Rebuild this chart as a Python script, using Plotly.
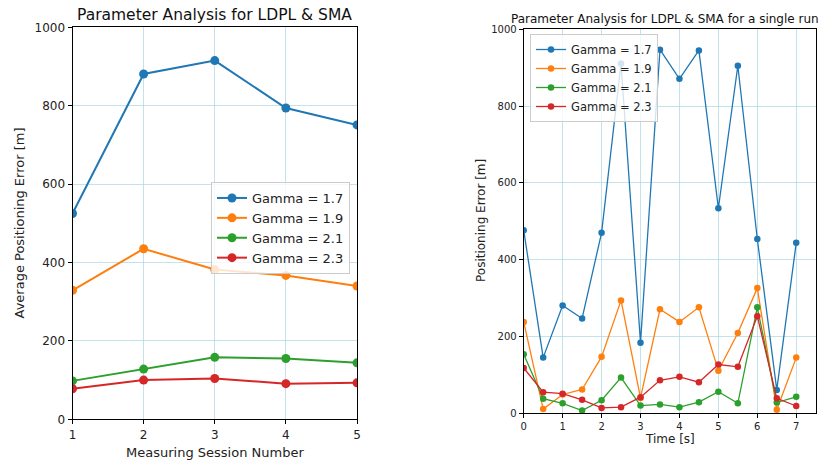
import plotly.graph_objects as go

W, H = 828, 464
colors = ["#1f77b4", "#ff7f0e", "#2ca02c", "#d62728"]
gamma_labels = ["Gamma = 1.7", "Gamma = 1.9", "Gamma = 2.1", "Gamma = 2.3"]

# Left chart: average error per measuring session
sessions = [1, 2, 3, 4, 5]
avg_g17 = [525, 881, 915, 794, 751]
avg_g19 = [329, 435, 382, 367, 340]
avg_g21 = [98, 128, 158, 155, 144]
avg_g23 = [78, 100, 104, 91, 93]

# Right chart: single run over time
time_s = [0, 0.5, 1, 1.5, 2, 2.5, 3, 3.5, 4, 4.5, 5, 5.5, 6, 6.5, 7]
run_g17 = [477, 145, 281, 247, 470, 911, 184, 947, 871, 945, 534, 905, 454, 61, 444]
run_g19 = [238, 11, 49, 62, 147, 294, 40, 271, 238, 276, 111, 209, 326, 9, 145]
run_g21 = [154, 38, 26, 7, 34, 93, 20, 23, 16, 29, 56, 26, 276, 28, 43]
run_g23 = [118, 55, 51, 35, 14, 16, 42, 86, 95, 81, 127, 121, 253, 39, 19]

FONT = "DejaVu Sans"
GRID = "rgba(173,216,230,0.75)"

fig = go.Figure()
for ys, c, name in zip([avg_g17, avg_g19, avg_g21, avg_g23], colors, gamma_labels):
    fig.add_trace(go.Scatter(x=sessions, y=ys, mode="lines+markers", name=name,
                             line=dict(color=c, width=2), marker=dict(color=c, size=9),
                             xaxis="x", yaxis="y", legend="legend"))
for ys, c, name in zip([run_g17, run_g19, run_g21, run_g23], colors, gamma_labels):
    fig.add_trace(go.Scatter(x=time_s, y=ys, mode="lines+markers", name=name,
                             line=dict(color=c, width=1.3), marker=dict(color=c, size=6.5),
                             xaxis="x2", yaxis="y2", legend="legend2"))

def px_x(p):
    return p / W

def px_y(p):
    return 1 - p / H

axis_common = dict(showline=True, linecolor="black", linewidth=1, mirror=True,
                   ticks="outside", ticklen=4, tickcolor="black", tickwidth=1,
                   showgrid=True, gridcolor=GRID, gridwidth=1, zeroline=False,
                   automargin=False)

fig.update_layout(
    width=W, height=H, margin=dict(l=0, r=0, t=0, b=0, autoexpand=False),
    plot_bgcolor="white", paper_bgcolor="white",
    font=dict(family=FONT, color="#222"),
    xaxis=dict(domain=[px_x(72.5), px_x(357)], range=[1, 5], tickvals=sessions,
               tickfont=dict(size=12, color="#222"), anchor="y", **axis_common),
    yaxis=dict(domain=[px_y(419.3), px_y(27.3)], range=[0, 1000], dtick=200,
               tickfont=dict(size=12, color="#222"), anchor="x", **axis_common),
    xaxis2=dict(domain=[px_x(523.7), px_x(815.7)], range=[0, 7.5], dtick=1,
                tickfont=dict(size=10, color="#222"), anchor="y2", **axis_common),
    yaxis2=dict(domain=[px_y(413.3), px_y(29.3)], range=[0, 1000], dtick=200,
                tickfont=dict(size=10, color="#222"), anchor="x2", **axis_common),
    legend=dict(x=px_x(350), y=px_y(182), xanchor="right", yanchor="top",
                bgcolor="rgba(255,255,255,0.8)", bordercolor="#cccccc", borderwidth=1,
                font=dict(size=13, color="#222"), tracegroupgap=0),
    legend2=dict(x=px_x(530), y=px_y(34), xanchor="left", yanchor="top",
                 bgcolor="rgba(255,255,255,0.8)", bordercolor="#cccccc", borderwidth=1,
                 font=dict(size=11.5, color="#222"), tracegroupgap=0),
    showlegend=True,
)

annotations = [
    dict(text="Parameter Analysis for LDPL & SMA", x=px_x(214.7), y=px_y(14.5),
         xanchor="center", yanchor="middle", font=dict(size=15.5, color="#111"), showarrow=False),
    dict(text="Parameter Analysis for LDPL & SMA for a single run", x=px_x(509), y=px_y(19),
         xanchor="left", yanchor="middle", font=dict(size=12, color="#111"), showarrow=False),
    dict(text="Measuring Session Number", x=px_x(214.7), y=px_y(452.5),
         xanchor="center", yanchor="middle", font=dict(size=13, color="#222"), showarrow=False),
    dict(text="Average Positioning Error [m]", x=px_x(18.5), y=px_y(223),
         xanchor="center", yanchor="middle", textangle=-90, font=dict(size=13, color="#222"),
         showarrow=False),
    dict(text="Time [s]", x=px_x(669.5), y=px_y(438.5),
         xanchor="center", yanchor="middle", font=dict(size=12, color="#222"), showarrow=False),
    dict(text="Positioning Error [m]", x=px_x(481), y=px_y(221),
         xanchor="center", yanchor="middle", textangle=-90, font=dict(size=12, color="#222"),
         showarrow=False),
]
for a in annotations:
    a.update(xref="paper", yref="paper")
fig.update_layout(annotations=annotations)

fig.write_html("out.html")
